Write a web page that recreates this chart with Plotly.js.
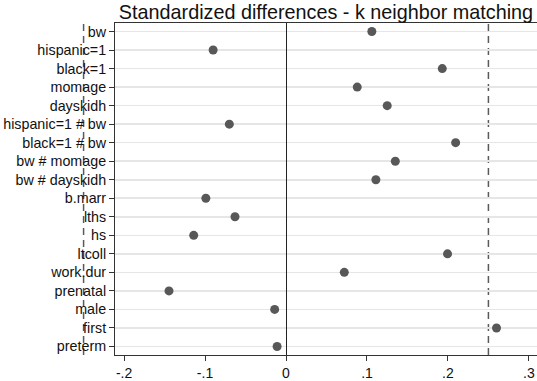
<!DOCTYPE html>
<html><head><meta charset="utf-8">
<script src="https://cdn.plot.ly/plotly-3.0.1.min.js"></script>
<style>html,body{margin:0;padding:0;background:#fff}#c{width:537px;height:381px}</style>
</head><body><div id="c"></div>
<script>
const categories = ["bw","hispanic=1","black=1","momage","dayskidh","hispanic=1 # bw","black=1 # bw","bw # momage","bw # dayskidh","b.marr","lths","hs","ltcoll","work.dur","prenatal","male","first","preterm"];
const stdDiff = [0.106,-0.090,0.193,0.088,0.125,-0.070,0.2095,0.135,0.111,-0.099,-0.063,-0.114,0.1995,0.072,-0.1445,-0.014,0.260,-0.011];
const thresholds = [-0.25, 0.25];
const xTicks = [-0.2,-0.1,0,0.1,0.2,0.3];
const xTickLabels = ["-.2","-.1","0",".1",".2",".3"];

const xr = [-0.2112, 0.31];
const idx = categories.map((_, i) => i);
const font = "Liberation Sans, Arial, sans-serif";

const shapes = thresholds.map(t => ({
  type: "line",
  xref: "paper", yref: "paper",
  x0: (t - xr[0]) / (xr[1] - xr[0]), x1: (t - xr[0]) / (xr[1] - xr[0]),
  y0: 0, y1: 1,
  line: {color: "#5a5a5a", width: 1.5, dash: "7px,5px"},
  layer: "below"
}));

Plotly.newPlot("c", [{
  type: "scatter", mode: "markers",
  x: stdDiff, y: idx,
  marker: {color: "#585858", size: 9},
  cliponaxis: false, hoverinfo: "none"
}], {
  width: 537, height: 381,
  margin: {l: 115, r: 0, t: 23, b: 26, pad: 0},
  paper_bgcolor: "#fff", plot_bgcolor: "#fff",
  showlegend: false,
  title: {text: "Standardized differences - k neighbor matching", x: 0.607, xanchor: "center", y: 0.968, yanchor: "middle",
          font: {family: font, size: 19.8, color: "#111"}},
  xaxis: {
    range: xr, tickvals: xTicks, ticktext: xTickLabels,
    showgrid: false, zeroline: true, zerolinecolor: "#222", zerolinewidth: 1,
    ticks: "outside", ticklen: 5, tickcolor: "#333", tickwidth: 1,
    showline: true, linecolor: "#333", linewidth: 1, mirror: true,
    tickfont: {family: font, size: 14, color: "#111"}
  },
  yaxis: {
    range: [categories.length - 1 + 0.46, -0.46],
    tickvals: idx, ticktext: categories,
    showgrid: true, gridcolor: "#e6e6e6", gridwidth: 1.6,
    zeroline: false,
    ticks: "outside", ticklen: 5, tickcolor: "#333", tickwidth: 1,
    showline: true, linecolor: "#333", linewidth: 1, mirror: true,
    tickfont: {family: font, size: 14.3, color: "#111"}
  },
  shapes: shapes
}, {staticPlot: true});
</script></body></html>
